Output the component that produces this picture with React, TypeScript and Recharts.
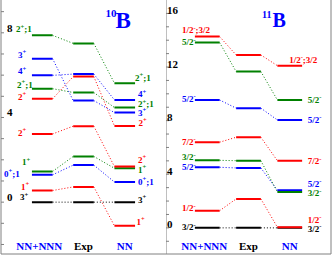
import React from "react";
import { LineChart, Line, XAxis, YAxis } from "recharts";

// ---------- data ----------
const columns = ["NN+NNN", "Exp", "NN"];
const columnPositions = [1, 2, 3];

// 10B levels (top to bottom as read in the NN+NNN column)
const b10Spin = ["2", "3", "4", "2", "2", "2", "1", "0", "1", "3"];
const b10Parity = ["+", "+", "+", "+", "+", "+", "+", "+", "+", "+"];
const b10Extra = [";1", "", "", ";1", "", "", "", ";1", "", ""];
const b10Theory = [7.88, 6.78, 5.99, 5.36, 4.88, 3.22, 1.45, 1.29, 0.55, 0];
const b10Exp = [7.5, 4.8, 6.05, 5.18, 5.93, 3.59, 2.16, 1.75, 0.72, 0];
const b10NN = [5.62, 4.23, 4.83, 4.47, 3.6, 1.68, 1.6, 0.95, -1.12, 0];
const b10Ticks = [-2, -1, 0, 1, 2, 3, 4, 5, 6, 7, 8, 9];
const b10Domain: [number, number] = [-2.45, 9.55];

// 11B levels
const b11Spin = ["1/2", "5/2", "5/2", "7/2", "3/2", "5/2", "1/2", "3/2"];
const b11Parity = ["-", "-", "-", "-", "-", "-", "-", "-"];
const b11Extra = [";3/2", "", "", "", "", "", "", ""];
const b11Theory = [14.27, 13.82, 9.54, 6.39, 5.04, 4.52, 1.28, 0];
const b11Exp = [12.9, 11.66, 8.93, 6.76, 5.01, 4.47, 2.16, 0];
const b11NN = [12.1, 9.54, 8.05, 5.01, 2.68, 2.8, 0.05, 0];
const b11Ticks = [-1, 0, 1, 2, 3, 4, 5, 6, 7, 8, 9, 10, 11, 12, 13, 14, 15, 16];
const b11Domain: [number, number] = [-1.95, 17];

// ---------- styles ----------
const FONT = '"Liberation Serif", "Times New Roman", serif';
const RED = "#ff0000";
const GREEN = "#008000";
const BLUE = "#0000ff";
const BLACK = "#000000";
const AXIS = "#808080";

const b10Colors = [GREEN, BLUE, BLUE, GREEN, RED, RED, GREEN, BLUE, RED, BLACK];
const b11Colors = [RED, GREEN, BLUE, RED, GREEN, BLUE, RED, BLACK];
const columnColors = [BLUE, BLACK, BLUE];
const columnDx = [-3, 0, 0];

// label nudges (px) relative to segment ends
const b10LeftDx = [-16, -14, -14, -15, -14, -14, -10, -28, -11, -12];
const b10LeftDy = [-3, -1, -1, -1, 1, 2, -6, 2, -1, -2];
const b10RightDx = [0, 3, 3, 3, 3.5, 3, 3, 3, 1.5, 3];
const b10RightDy = [-2.6, 3, -2.7, -0.4, 0, -4, 4.5, 2.7, -1, 0.7];

const b11LeftDx = [-13, -13, -13, -13, -13, -13, -13, -13];
const b11LeftDy = [-3.5, 2.5, 1.7, 2.4, 0, 3, 0.6, 2.4];
const b11RightDx = [-13, 5.6, 5.6, 5.6, 5.6, 5.6, 5.6, 5.6];
const b11RightDy = [-2.8, 3, 3, 3.3, 4.3, -3.6, -4.5, 4];

type Pt = { x: number; y: number | null };

function segmentPoints(vals: number[], half: number): Pt[] {
  const pts: Pt[] = [];
  vals.forEach((v, c) => {
    const xc = columnPositions[c];
    if (c > 0) pts.push({ x: xc - 0.5, y: null });
    pts.push({ x: xc - half, y: v }, { x: xc + half, y: v });
  });
  return pts;
}

function linkPoints(vals: number[], half: number): Pt[] {
  const [c1, c2, c3] = columnPositions;
  return [
    { x: c1 + half, y: vals[0] },
    { x: c2 - half, y: vals[1] },
    { x: c2, y: null },
    { x: c2 + half, y: vals[1] },
    { x: c3 - half, y: vals[2] },
  ];
}

type PanelProps = {
  theory: number[];
  exp: number[];
  nn: number[];
  spin: string[];
  parity: string[];
  extra: string[];
  colors: string[];
  domain: [number, number];
  ticks: number[];
  half: number;
  leftDx: number[];
  leftDy: number[];
  rightDx: number[];
  rightDy: number[];
  tickDx: number;
  tickDy: number;
  margin: { top: number; right: number; bottom: number; left: number };
  rightBorder: boolean;
};

function LevelLabel(props: {
  x: number;
  y: number;
  color: string;
  spin: string;
  parity: string;
  extra: string;
}) {
  const { x, y, color, spin, parity, extra } = props;
  return (
    <text x={x} y={y} fill={color} fontFamily={FONT} fontWeight="bold" fontSize={9} textAnchor="start">
      {spin}
      <tspan dy={-3.5} fontSize={6.5}>
        {parity}
      </tspan>
      {extra ? <tspan dy={3.5}>{extra}</tspan> : null}
    </text>
  );
}

function Panel(p: PanelProps) {
  const order = p.theory.map((_, i) => i).reverse();

  const renderYTick = (t: any) => {
    const v = t.payload.value;
    if (v % 4 !== 0) return <g key={`yt${v}`} />;
    return (
      <text
        key={`yt${v}`}
        x={t.x + p.tickDx}
        y={t.y + p.tickDy}
        fontFamily={FONT}
        fontWeight="bold"
        fontSize={11}
        fill={BLACK}
        textAnchor="start"
      >
        {v}
      </text>
    );
  };

  const renderXTick = (t: any) => {
    const v = t.payload.value;
    const idx = columnPositions.indexOf(v);
    return (
      <text
        key={`xt${v}`}
        x={t.x + columnDx[idx]}
        y={t.y + 3.5}
        fontFamily={FONT}
        fontWeight="bold"
        fontSize={11}
        fill={columnColors[idx]}
        textAnchor="middle"
      >
        {columns[idx]}
      </text>
    );
  };

  const makeDot = (i: number, lastIndex: number) => (d: any) => {
    const { cx, cy, index } = d;
    const k = `dot${i}-${index}`;
    if (cy == null || Number.isNaN(cy)) return <g key={k} />;
    if (index === 0) {
      return (
        <g key={k}>
          <LevelLabel
            x={cx + p.leftDx[i]}
            y={cy + p.leftDy[i]}
            color={p.colors[i]}
            spin={p.spin[i]}
            parity={p.parity[i]}
            extra={p.extra[i]}
          />
        </g>
      );
    }
    if (index === lastIndex) {
      return (
        <g key={k}>
          <LevelLabel
            x={cx + p.rightDx[i]}
            y={cy + p.rightDy[i]}
            color={p.colors[i]}
            spin={p.spin[i]}
            parity={p.parity[i]}
            extra={p.extra[i]}
          />
        </g>
      );
    }
    return <g key={k} />;
  };

  return (
    <LineChart width={166} height={256} margin={p.margin}>
      <XAxis
        type="number"
        dataKey="x"
        domain={[0, 4]}
        ticks={columnPositions}
        interval={0}
        mirror
        tickLine={false}
        axisLine={{ stroke: AXIS }}
        tick={renderXTick}
      />
      <YAxis
        type="number"
        domain={p.domain}
        ticks={p.ticks}
        interval={0}
        mirror
        tickSize={3}
        axisLine={{ stroke: AXIS }}
        tickLine={{ stroke: AXIS }}
        tick={renderYTick}
      />
      {p.rightBorder ? (
        <YAxis
          yAxisId="border"
          orientation="right"
          type="number"
          domain={p.domain}
          mirror
          tick={false}
          tickLine={false}
          axisLine={{ stroke: AXIS }}
        />
      ) : null}
      {order.map((i) => {
        const vals = [p.theory[i], p.exp[i], p.nn[i]];
        return (
          <Line
            key={`link${i}`}
            data={linkPoints(vals, p.half)}
            dataKey="y"
            type="linear"
            stroke={p.colors[i]}
            strokeWidth={1}
            strokeDasharray="1 2"
            dot={false}
            activeDot={false}
            connectNulls={false}
            isAnimationActive={false}
          />
        );
      })}
      {order.map((i) => {
        const vals = [p.theory[i], p.exp[i], p.nn[i]];
        const pts = segmentPoints(vals, p.half);
        return (
          <Line
            key={`seg${i}`}
            data={pts}
            dataKey="y"
            type="linear"
            stroke={p.colors[i]}
            strokeWidth={2}
            dot={makeDot(i, pts.length - 1)}
            activeDot={false}
            connectNulls={false}
            isAnimationActive={false}
          />
        );
      })}
    </LineChart>
  );
}

export default function App() {
  return (
    <div style={{ position: "absolute", left: 0, top: 0, width: 332, height: 256, background: "#fff" }}>
      <div style={{ position: "absolute", left: 0, top: 0 }}>
        <Panel
          theory={b10Theory}
          exp={b10Exp}
          nn={b10NN}
          spin={b10Spin}
          parity={b10Parity}
          extra={b10Extra}
          colors={b10Colors}
          domain={b10Domain}
          ticks={b10Ticks}
          half={0.25}
          leftDx={b10LeftDx}
          leftDy={b10LeftDy}
          rightDx={b10RightDx}
          rightDy={b10RightDy}
          tickDx={1}
          tickDy={-1}
          margin={{ top: 0, right: 0, bottom: 2, left: 1 }}
          rightBorder={false}
        />
      </div>
      <div style={{ position: "absolute", left: 166, top: 0 }}>
        <Panel
          theory={b11Theory}
          exp={b11Exp}
          nn={b11NN}
          spin={b11Spin}
          parity={b11Parity}
          extra={b11Extra}
          colors={b11Colors}
          domain={b11Domain}
          ticks={b11Ticks}
          half={0.3}
          leftDx={b11LeftDx}
          leftDy={b11LeftDy}
          rightDx={b11RightDx}
          rightDy={b11RightDy}
          tickDx={-4}
          tickDy={0.5}
          margin={{ top: 0, right: 1, bottom: 2, left: 0 }}
          rightBorder={true}
        />
      </div>
      <svg
        width={332}
        height={256}
        style={{ position: "absolute", left: 0, top: 0, pointerEvents: "none" }}
      >
        <text x={105.5} y={16.7} fill={BLUE} fontFamily={FONT} fontWeight="bold" fontSize={11}>
          10
        </text>
        <text x={115.5} y={28.3} fill={BLUE} fontFamily={FONT} fontWeight="bold" fontSize={23}>
          B
        </text>
        <text x={262} y={18.3} fill={BLUE} fontFamily={FONT} fontWeight="bold" fontSize={10}>
          11
        </text>
        <text x={272.5} y={26.7} fill={BLUE} fontFamily={FONT} fontWeight="bold" fontSize={20}>
          B
        </text>
      </svg>
    </div>
  );
}
